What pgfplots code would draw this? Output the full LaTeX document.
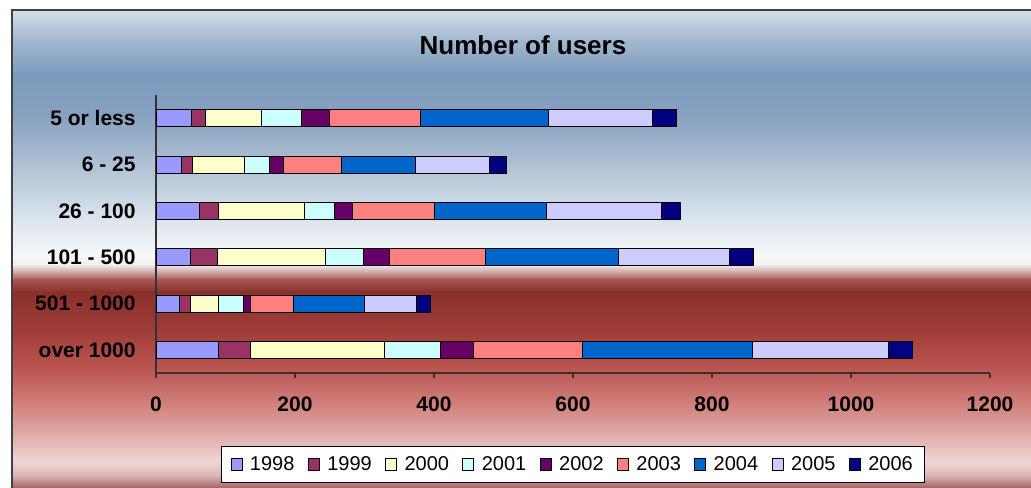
\documentclass[border=0pt]{standalone}
\usepackage{pgfplots}
\pgfplotsset{compat=1.18}
\usepackage{pgfplotstable}
\usepackage{fontspec}
\setmainfont{Liberation Sans}

\definecolor{c1998}{HTML}{9999FF}
\definecolor{c1999}{HTML}{993366}
\definecolor{c2000}{HTML}{FFFFCC}
\definecolor{c2001}{HTML}{CCFFFF}
\definecolor{c2002}{HTML}{660066}
\definecolor{c2003}{HTML}{FF8080}
\definecolor{c2004}{HTML}{0066CC}
\definecolor{c2005}{HTML}{CCCCFF}
\definecolor{c2006}{HTML}{000080}

\definecolor{g01}{HTML}{D3DFEA}
\definecolor{g02}{HTML}{A3B8CF}
\definecolor{g03}{HTML}{7D99BB}
\definecolor{g04}{HTML}{87A1C0}
\definecolor{g05}{HTML}{AFC1D3}
\definecolor{g06}{HTML}{D8E2EB}
\definecolor{g07}{HTML}{F6F8FA}
\definecolor{g08}{HTML}{F0EEEE}
\definecolor{g09}{HTML}{A8544F}
\definecolor{g10}{HTML}{8A302C}
\definecolor{g11}{HTML}{A03C38}
\definecolor{g12}{HTML}{BC5752}
\definecolor{g13}{HTML}{D48884}
\definecolor{g14}{HTML}{E4B4B0}
\definecolor{g15}{HTML}{EED6D4}
\definecolor{g16}{HTML}{D9B4B2}
\definecolor{g17}{HTML}{A86464}

% y: 0 = over 1000 ... 5 = 5 or less
\pgfplotstableread{
cat s1998 s1999 s2000 s2001 s2002 s2003 s2004 s2005 s2006
0   90    46    193   80    48    156   245   196   34
1   34    15    41    36    10    62    102   75    20
2   49    39    156   55    37    138   192   159   34
3   62    28    123   43    26    119   161   165   28
4   36    16    75    36    20    84    106   107   24
5   51    20    80    58    41    131   184   149   35
}\datatable

\newcommand\band[4]{\shade[top color=#3,bottom color=#4] (12,{487-#1+0.3}) rectangle (1035,{487-#2-0.3});}

\begin{document}
\begin{tikzpicture}[x=0.75pt,y=0.75pt]
\path[use as bounding box] (0,0) rectangle (1031,487);
\fill[white] (0,0) rectangle (1031,487);
\band{10}{40}{g01}{g02}
\band{40}{75}{g02}{g03}
\band{75}{115}{g03}{g04}
\band{115}{165}{g04}{g05}
\band{165}{215}{g05}{g06}
\band{215}{255}{g06}{g07}
\band{255}{265}{g07}{g08}
\band{265}{280}{g08}{g09}
\band{280}{292}{g09}{g10}
\band{292}{330}{g10}{g11}
\band{330}{370}{g11}{g12}
\band{370}{410}{g12}{g13}
\band{410}{440}{g13}{g14}
\band{440}{462}{g14}{g15}
\band{462}{476}{g15}{g16}
\band{476}{487}{g16}{g17}
\draw[black!75, line width=1pt] (12,-5) -- (12,477) -- (1040,477);
\node[font=\bfseries\fontsize{19.5}{23}\selectfont, anchor=base] at (523,433) {Number of users};

\begin{axis}[
  at={(117pt,85.5pt)}, anchor=south west,
  width=625.5pt, height=208.5pt, scale only axis,
  xbar stacked, bar width=12.75pt,
  xmin=0, xmax=1200, ymin=-0.5, ymax=5.5,
  axis x line*=bottom, axis y line*=left,
  axis line style={draw=black!80, line width=0.9pt},
  xtick={0,200,...,1200}, ytick={0,...,5},
  yticklabels={over 1000, 501 - 1000, 101 - 500, 26 - 100, 6 - 25, 5 or less},
  major tick length=3.75pt, tick align=outside,
  xtick style={draw=black!80, line width=0.9pt},
  ytick style={draw=none},
  /pgf/number format/assume math mode=true,
  /pgf/number format/1000 sep={},
  tick label style={font=\bfseries\fontsize{15.75}{18}\selectfont},
  xticklabel style={yshift=-10.5pt},
  yticklabel style={xshift=-8pt},
  every axis plot/.append style={draw=black, line width=0.6pt},
  every axis plot post/.append style={legend image code/.code={\draw[##1, draw=black, line width=0.6pt] (0pt,-4.35pt) rectangle (8.25pt,4.35pt); \path (12pt,0pt);}},
  legend columns=9,
  legend style={at={(0.5,-0.329)}, anchor=center, draw=black, fill=white, line width=0.8pt,
    font=\fontsize{15}{18}\selectfont, inner xsep=7pt, inner ysep=5.5pt,
    /tikz/every even column/.append style={column sep=8pt}},
]
\addplot[fill=c1998] table[x=s1998,y=cat]{\datatable};
\addplot[fill=c1999] table[x=s1999,y=cat]{\datatable};
\addplot[fill=c2000] table[x=s2000,y=cat]{\datatable};
\addplot[fill=c2001] table[x=s2001,y=cat]{\datatable};
\addplot[fill=c2002] table[x=s2002,y=cat]{\datatable};
\addplot[fill=c2003] table[x=s2003,y=cat]{\datatable};
\addplot[fill=c2004] table[x=s2004,y=cat]{\datatable};
\addplot[fill=c2005] table[x=s2005,y=cat]{\datatable};
\addplot[fill=c2006] table[x=s2006,y=cat]{\datatable};
\legend{1998,1999,2000,2001,2002,2003,2004,2005,2006}
\end{axis}
\end{tikzpicture}
\end{document}
